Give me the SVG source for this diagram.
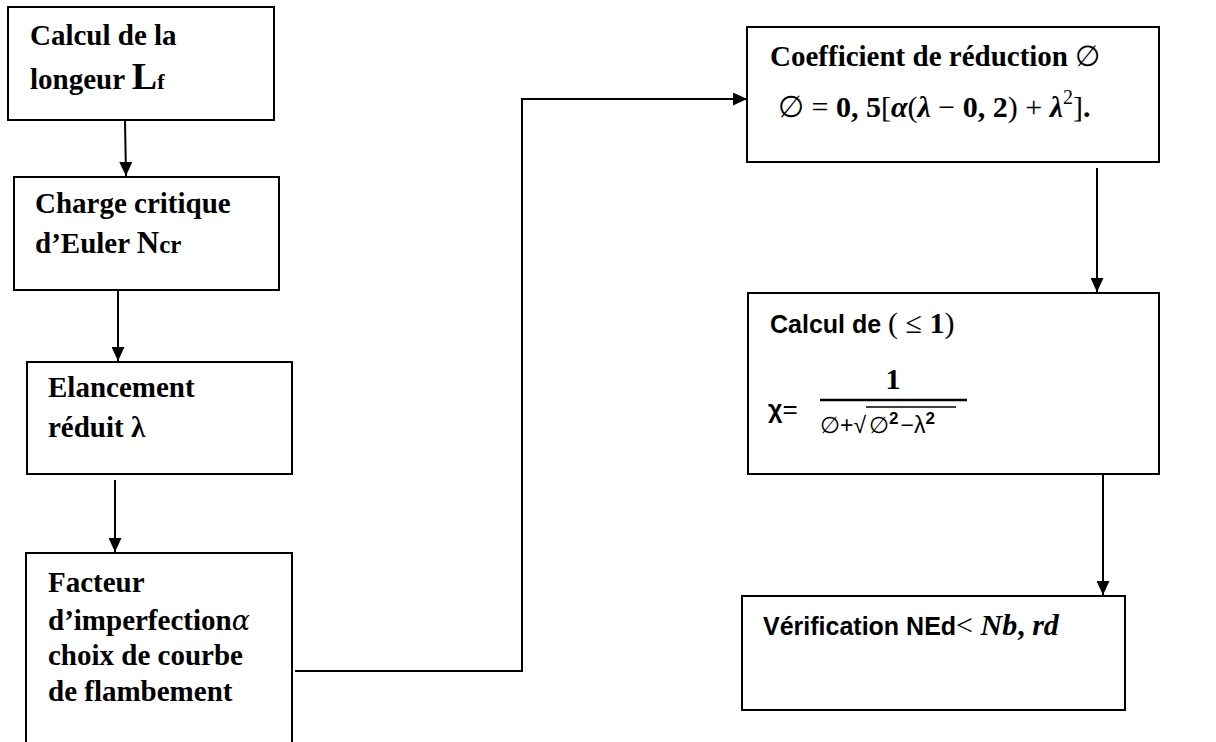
<svg xmlns="http://www.w3.org/2000/svg" width="1216" height="742" viewBox="0 0 1216 742">
<defs>
<marker id="ah" markerWidth="14" markerHeight="13" refX="14" refY="6.5" orient="auto" markerUnits="userSpaceOnUse">
<path d="M0,0 L14,6.5 L0,13 Z" fill="#000"/>
</marker>
<style>
.box{fill:#fff;stroke:#000;stroke-width:2}
.t{font-family:"Liberation Serif","Times New Roman",serif;font-weight:bold;font-size:29px;fill:#000}
.s{font-family:"Liberation Sans",Arial,sans-serif;font-weight:bold;font-size:25px;fill:#000}
.m{font-family:"Liberation Serif","DejaVu Serif",serif;font-size:30px;fill:#000}
.c{fill:none;stroke:#000;stroke-width:2}
</style>
</defs>
<rect width="1216" height="742" fill="#fff"/>
<g id="connectors">
<path class="c" d="M125,121 L126,176" marker-end="url(#ah)"/>
<path class="c" d="M118,291 L118,361" marker-end="url(#ah)"/>
<path class="c" d="M115,480 L115,552" marker-end="url(#ah)"/>
<path class="c" d="M295,671 L522,671 L522,99 L747,99" marker-end="url(#ah)"/>
<path class="c" d="M1097,168 L1097,292" marker-end="url(#ah)"/>
<path class="c" d="M1103,475 L1103,595" marker-end="url(#ah)"/>
</g>
<g id="n1">
<rect class="box" x="8" y="7" width="266" height="113"/>
<text class="t" x="30" y="45">Calcul de la</text>
<text class="t" x="30" y="89">longeur <tspan font-size="38">L</tspan><tspan font-size="22">f</tspan></text>
</g>
<g id="n2">
<rect class="box" x="14" y="177" width="265" height="113"/>
<text class="t" x="35" y="213">Charge critique</text>
<text class="t" x="35" y="253">d’Euler <tspan font-size="31">N</tspan><tspan font-size="25">cr</tspan></text>
</g>
<g id="n3">
<rect class="box" x="27" y="362" width="265" height="112"/>
<text class="t" x="48" y="397">Elancement</text>
<text class="t" x="48" y="437">réduit λ</text>
</g>
<g id="n4">
<rect class="box" x="26" y="553" width="266" height="200"/>
<text class="t" x="48" y="592">Facteur</text>
<text class="t" x="48" y="630">d’imperfection<tspan font-style="italic" font-weight="normal" font-family="DejaVu Serif, serif" font-size="27">α</tspan></text>
<text class="t" x="48" y="665">choix de courbe</text>
<text class="t" x="48" y="701">de flambement</text>
</g>
<g id="n5">
<rect class="box" x="747" y="27" width="412" height="135"/>
<text class="t" x="770" y="66">Coefficient de réduction <tspan font-weight="normal">∅</tspan></text>
<text class="m" x="778" y="117" font-size="32">∅ = <tspan font-weight="bold">0, 5</tspan>[<tspan font-weight="bold" font-style="italic">α</tspan>(<tspan font-weight="bold" font-style="italic">λ</tspan> − <tspan font-weight="bold">0, 2</tspan>) + <tspan font-weight="bold" font-style="italic">λ</tspan><tspan font-size="20" dy="-13">2</tspan><tspan dy="13">]<tspan font-weight="bold">.</tspan></tspan></text>
</g>
<g id="n6">
<rect class="box" x="748" y="293" width="411" height="181"/>
<text class="s" x="770" y="333">Calcul de <tspan class="m" font-weight="normal" font-size="34">(</tspan><tspan class="m" font-weight="normal" font-size="30"> ≤ </tspan><tspan class="m" font-weight="bold" font-size="30">1</tspan><tspan class="m" font-weight="normal" font-size="34">)</tspan></text>
<text class="s" x="768" y="418" font-size="34">χ<tspan font-weight="normal" font-size="26">=</tspan></text>
<text class="m" x="893" y="389" font-weight="bold" font-size="24" text-anchor="middle">1</text>
<line x1="820" y1="400" x2="967" y2="400" stroke="#000" stroke-width="2.5"/>
<text font-family="Liberation Sans, DejaVu Sans, sans-serif" font-size="23" x="820" y="433" fill="#000">∅+√</text>
<text font-family="Liberation Sans, DejaVu Sans, sans-serif" font-size="23" x="869" y="433" fill="#000">∅<tspan font-size="17" font-weight="bold" dy="-9">2</tspan><tspan dy="9" dx="2">−λ</tspan><tspan font-size="17" font-weight="bold" dy="-9">2</tspan></text>
<line x1="866" y1="407" x2="956" y2="407" stroke="#000" stroke-width="1.5"/>
</g>
<g id="n7">
<rect class="box" x="742" y="596" width="383" height="114"/>
<text class="s" x="763" y="635" font-size="26">Vérification NEd<tspan class="m" font-weight="normal">&lt; </tspan><tspan class="m" font-weight="bold" font-style="italic">Nb</tspan><tspan class="m">, </tspan><tspan class="m" font-weight="bold" font-style="italic">rd</tspan></text>
</g>
</svg>
